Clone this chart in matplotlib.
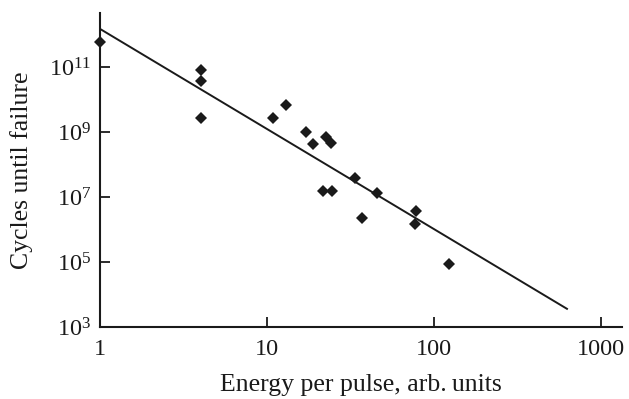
import numpy as np
import matplotlib
matplotlib.use("Agg")
import matplotlib.pyplot as plt
from matplotlib.ticker import FixedLocator, FuncFormatter, NullLocator

plt.rcParams['font.family'] = ['Liberation Serif', 'DejaVu Serif']
plt.rcParams['mathtext.fontset'] = 'custom'
plt.rcParams['mathtext.rm'] = 'Liberation Serif'
plt.rcParams['mathtext.it'] = 'Liberation Serif:italic'
plt.rcParams['mathtext.bf'] = 'Liberation Serif:bold'

# Data
energy = [1.0, 4.0, 4.0, 4.0, 10.9, 12.9, 17.1, 18.9, 22.4, 24.3,
          21.5, 24.4, 33.6, 37.2, 45.3, 77.0, 78.0, 123.6]
cycles_log10 = [11.76, 10.91, 10.57, 9.42, 9.42, 9.83, 9.01, 8.62, 8.85, 8.66,
                7.19, 7.19, 7.59, 6.34, 7.11, 6.16, 6.58, 4.94]
cycles = [10 ** v for v in cycles_log10]

# Fitted power law: log10(N) = fit_a + fit_b * log10(E)
fit_a = 12.17
fit_b = -3.08
fit_range = [1.0, 625.0]

x_ticks = [1, 10, 100, 1000]
x_tick_labels = ['1', '10', '100', '1000']
y_exponents = [3, 5, 7, 9, 11]

fig = plt.figure(figsize=(6.29, 3.99), dpi=100)
ax = fig.add_axes([0.159, 0.1805, 0.830, 0.787])

ax.set_xscale('log')
ax.set_yscale('log')

fx = np.logspace(np.log10(fit_range[0]), np.log10(fit_range[1]), 50)
fy = 10 ** (fit_a + fit_b * np.log10(fx))
ax.plot(fx, fy, color='#1a1a1a', lw=1.4, zorder=2)

ax.plot(energy, cycles, linestyle='none', marker='D', markersize=6.3,
        color='#1a1a1a', markeredgewidth=0, zorder=3, clip_on=False)

ax.set_xlim(1, 1336)
ax.set_ylim(1e3, 10 ** 12.66)

ax.xaxis.set_major_locator(FixedLocator(x_ticks))
ax.xaxis.set_minor_locator(NullLocator())
ax.xaxis.set_major_formatter(FuncFormatter(
    lambda v, p: x_tick_labels[x_ticks.index(int(round(v)))] if int(round(v)) in x_ticks else ''))

ax.yaxis.set_major_locator(FixedLocator([10.0 ** e for e in y_exponents]))
ax.yaxis.set_minor_locator(NullLocator())
ax.yaxis.set_major_formatter(FuncFormatter(
    lambda v, p: r'$\mathregular{10^{%d}}$' % int(round(np.log10(v)))))

for s in ['top', 'right']:
    ax.spines[s].set_visible(False)
for s in ['left', 'bottom']:
    ax.spines[s].set_linewidth(1.5)
    ax.spines[s].set_color('#1a1a1a')

ax.tick_params(axis='both', direction='in', length=7, width=1.3,
               color='#1a1a1a', labelsize=17.5, labelcolor='#1a1a1a')
ax.tick_params(axis='y', pad=6)
ax.tick_params(axis='x', pad=9)

ax.set_xlabel('Energy per pulse, arb.\u2009units', fontsize=18.5, color='#1a1a1a', labelpad=10)
ax.set_ylabel('Cycles until failure', fontsize=18.5, color='#1a1a1a', labelpad=12)

fig.savefig('out.png', dpi=100)
